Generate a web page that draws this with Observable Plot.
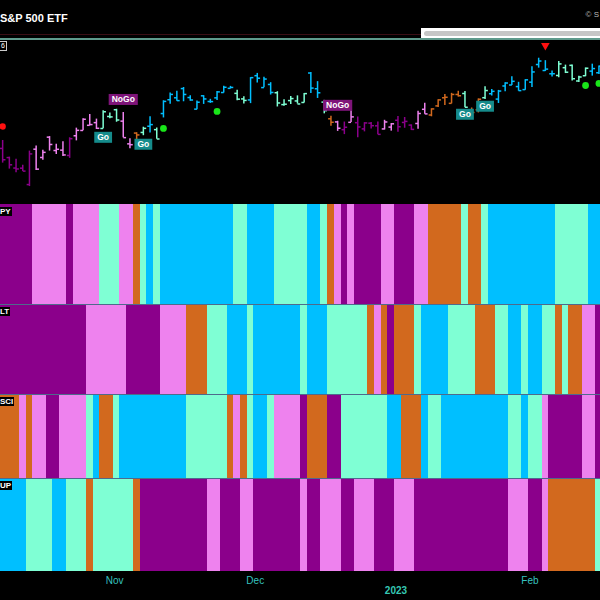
<!DOCTYPE html>
<html><head><meta charset="utf-8">
<script src="https://cdn.jsdelivr.net/npm/d3@7"></script>
<script src="https://cdn.jsdelivr.net/npm/@observablehq/plot@0.6"></script>
<style>
html,body{margin:0;padding:0;background:#000;overflow:hidden;}
#root{position:relative;width:600px;height:600px;background:#000;overflow:hidden;font-family:"Liberation Sans",Arial,sans-serif;}
.title{position:absolute;left:0;top:12px;color:#fff;font-weight:bold;font-size:11px;line-height:12px;white-space:nowrap;}
.copy{position:absolute;right:1px;top:10px;color:#bbb;font-size:8px;line-height:9px;white-space:nowrap;}
.lineRed{position:absolute;left:0;top:34px;width:421px;height:1px;background:#3a0d14;}
.lineTeal{position:absolute;left:0;top:38px;width:600px;height:1.5px;background:#5f9a8c;}
.scroll{position:absolute;left:421px;top:28px;width:181px;height:10px;background:#fff;}
.thumb{position:absolute;left:3px;top:2.5px;right:0;height:5px;background:#c6c6c6;border-radius:3px;}
.plots{position:absolute;left:0;top:40px;width:600px;}
.plots svg{display:block;}
.gap{height:1px;background:#4f6a8c;}
.tag{position:absolute;left:0;background:#000;color:#fff;font-weight:bold;font-size:8px;line-height:9px;padding:0 1px 0 0;white-space:nowrap;}
.ptag{position:absolute;left:0;top:41px;border:1px solid #ccc;border-left:none;color:#fff;font-size:7px;line-height:8px;padding:0 1px;background:#000;}
</style></head>
<body>
<div id="root">
  <div class="title">S&amp;P 500 ETF</div>
  <div class="copy">© S</div>
  <div class="lineRed"></div>
  <div class="lineTeal"></div>
  <div class="scroll"><div class="thumb"></div></div>
  <div class="plots" id="plots"></div>
  <div class="ptag">6</div>
  <div class="tag" style="top:206.5px">PY</div>
  <div class="tag" style="top:306.5px">LT</div>
  <div class="tag" style="top:397px">SCI</div>
  <div class="tag" style="top:481px">UP</div>
</div>
<script>
// ---- data ----
const stateCodes = ["B", "A", "O", "V", "P"]; // strong Go, weak Go, fade, weak NoGo, strong NoGo
const stateColors = ["#00bfff", "#7fffd4", "#d2691e", "#ee82ee", "#8b008b"];

// daily bars, Oct 7 2022 .. Feb 15 2023 : [open, high, low, close]
const ohlc = [
 [368.97,373.29,360.94,362.79],[363.96,364.21,357.67,360.02],[358.24,363.03,355.71,357.74],[358.17,359.82,356.30,356.56],
 [349.21,367.51,348.11,365.97],[368.55,370.26,356.96,357.63],[364.01,367.98,362.50,366.82],[375.13,375.45,367.52,371.13],
 [367.82,371.26,365.64,368.50],[368.03,372.67,364.61,365.41],[365.12,374.80,363.54,374.29],[375.89,380.06,373.11,378.87],
 [378.79,385.25,378.67,384.92],[381.62,387.58,381.35,382.02],[383.07,385.00,379.33,379.98],[379.87,389.52,379.68,389.02],
 [386.44,388.40,385.26,386.21],[390.14,390.39,383.29,384.52],[383.90,388.63,374.76,374.87],[371.47,374.21,368.79,371.01],
 [377.37,377.55,369.86,376.35],[377.71,380.57,375.93,379.95],[381.11,386.30,377.42,382.00],[379.24,380.08,373.95,374.13],
 [388.05,395.04,385.64,394.69],[395.59,399.35,393.15,398.51],[396.66,400.18,394.83,395.12],[401.70,402.31,394.49,398.49],
 [396.81,397.79,394.79,395.45],[390.46,394.95,390.14,394.24],[397.74,397.81,393.04,396.03],[394.64,395.82,393.62,394.59],
 [396.63,400.07,395.15,399.90],[399.55,402.93,399.31,402.42],[401.83,402.91,401.54,402.33],[399.09,400.81,395.11,395.91],
 [396.05,397.30,393.30,395.23],[395.49,407.68,393.48,407.68],[408.77,410.00,404.75,407.38],[402.25,407.86,402.14,406.91],
 [403.95,404.93,398.17,399.59],[399.42,399.99,391.64,393.83],[392.94,395.64,391.97,393.16],[395.14,397.36,392.93,396.24],
 [394.94,397.72,393.26,393.28],[394.11,398.99,393.80,398.95],[410.22,410.49,399.07,401.97],[401.61,405.50,396.31,399.40],
 [394.30,395.25,387.89,389.63],[385.18,386.58,381.04,383.27],[383.47,383.82,378.28,380.02],[379.23,383.40,376.53,380.54],
 [383.25,389.56,383.10,386.23],[383.05,386.21,374.77,380.72],[379.65,383.06,378.03,382.91],[382.79,383.15,379.65,381.40],
 [381.33,383.39,376.42,376.66],[379.63,384.35,379.08,383.44],[380.64,382.58,378.43,382.43],[384.37,386.43,377.83,380.82],
 [383.18,385.88,380.00,383.76],[381.72,381.84,378.76,379.38],[382.61,389.25,379.41,388.08],[390.37,393.70,387.67,387.86],
 [387.25,390.65,386.27,390.58],[392.23,395.60,391.38,395.52],[396.67,398.49,392.42,396.96],[393.62,399.10,393.34,398.50],
 [398.48,400.23,397.06,397.77],[399.01,400.12,391.28,391.49],[389.36,391.08,387.26,388.64],[390.10,396.04,388.38,395.88],
 [396.72,402.65,395.72,400.63],[398.88,401.15,397.64,400.20],[395.95,400.70,393.56,400.35],[403.13,404.92,400.03,404.75],
 [403.66,408.16,403.44,405.68],[402.80,405.13,400.28,400.59],[401.13,406.53,400.77,406.48],[405.21,413.67,402.35,410.80],
 [414.86,418.31,412.88,416.78],[411.59,416.97,411.09,412.35],[409.79,411.29,408.10,409.83],[408.87,416.49,407.57,415.19],
 [413.13,414.53,409.93,410.65],[414.41,414.57,405.81,407.09],[405.86,408.44,405.01,408.04],[408.72,412.97,408.24,412.83],
 [411.24,415.05,408.51,412.64],[410.35,414.06,409.47,413.98]
];

// heat map runs: [state, number of days]
const spyRuns = [["P",5],["V",5],["P",1],["V",4],["A",3],["V",2],["O",1],["A",1],["B",1],["A",1],["B",11],["A",2],["B",4],["A",5],["B",2],["A",1],["O",1],["V",1],["P",1],["V",1],["P",4],["V",2],["P",3],["V",2],["O",5],["A",1],["O",2],["A",1],["B",10],["A",5],["B",2]];
const tltRuns = [["P",13],["V",6],["P",5],["V",4],["O",3],["A",3],["B",3],["A",1],["B",7],["A",1],["B",3],["A",6],["O",1],["V",1],["O",1],["P",1],["O",3],["A",1],["B",4],["A",4],["O",3],["A",2],["B",2],["A",1],["B",2],["A",2],["O",1],["A",1],["O",2],["V",2],["P",1]];
const gsciRuns = [["O",3],["V",1],["O",1],["V",2],["P",2],["V",4],["A",1],["B",1],["O",2],["A",1],["B",10],["A",6],["O",1],["V",1],["O",1],["A",1],["B",2],["A",1],["V",4],["P",1],["O",3],["P",2],["A",7],["B",2],["O",3],["B",1],["A",2],["B",10],["A",2],["B",1],["A",2],["V",1],["P",5],["V",2],["P",1]];
const uupRuns = [["B",4],["A",4],["B",2],["A",3],["O",1],["A",6],["O",1],["P",10],["V",2],["P",3],["V",2],["P",7],["V",1],["P",2],["V",3],["P",2],["V",3],["P",3],["V",3],["P",14],["V",3],["P",2],["V",1],["O",7],["A",1]];

// signals on price pane: day index and price level
const redDots = [{i: 0, p: 381.0}];
const greenDots = [{i: 24, p: 379.9}, {i: 32, p: 389.2}, {i: 87, p: 403.4}, {i: 89, p: 404.5}];
const redTriangles = [{i: 81, p: 425.3}];
const signalLabels = [
  {i: 18, p: 395.6, t: "NoGo"}, {i: 15, p: 374.9, t: "Go"}, {i: 21, p: 371.1, t: "Go"},
  {i: 50, p: 392.4, t: "NoGo"}, {i: 69, p: 387.5, t: "Go"}, {i: 72, p: 391.9, t: "Go"}
];

// x-axis tick labels (day index of first session)
const tickIndex = [17, 38, 59, 79];
const tickLabels = ["Nov", "Dec", "2023", "Feb"];

// ---- build ----
function expand(runs) {
  const out = []; let k = 0;
  for (const [s, n] of runs) { out.push({a: k, b: k + n - 1, s}); k += n; }
  return out;
}
function perDay(runs) {
  const out = [];
  for (const [s, n] of runs) for (let j = 0; j < n; j++) out.push(s);
  return out;
}
const spyStates = perDay(spyRuns);
const bars = ohlc.map(([o, h, l, c], i) => ({i, o, h, l, c, s: spyStates[i]}));
const ticks = tickIndex.map((i, k) => ({i, t: tickLabels[k]}));

const xDomain = [-0.321, 89.23];
const color = {type: "ordinal", domain: stateCodes, range: stateColors};
const style = {background: "#000", fontFamily: "Liberation Sans, Arial, sans-serif", overflow: "hidden"};

const pricePlot = Plot.plot({
  width: 600, height: 164, margin: 0,
  x: {domain: xDomain, axis: null},
  y: {domain: [338.3, 428.0], axis: null},
  color, style,
  marks: [
    Plot.ruleX(bars, {x: "i", y1: "l", y2: "h", stroke: "s", strokeWidth: 1.5}),
    Plot.link(bars, {x1: d => d.i - 0.42, x2: "i", y1: "o", y2: "o", stroke: "s", strokeWidth: 1.5}),
    Plot.link(bars, {x1: "i", x2: d => d.i + 0.42, y1: "c", y2: "c", stroke: "s", strokeWidth: 1.5}),
    Plot.dot(redDots, {x: "i", y: "p", fill: "#ff1010", r: 3.2}),
    Plot.dot(greenDots, {x: "i", y: "p", fill: "#19e619", r: 3.4}),
    Plot.dot(redTriangles, {x: "i", y: "p", fill: "#ff1010", symbol: "triangle", rotate: 180, r: 3.2}),
    Plot.text(signalLabels, {x: "i", y: "p", text: "t", fill: "#fff", fontSize: 8.5, fontWeight: "bold", className: "siglbl"})
  ]
});

function strip(runs, h, withAxis) {
  const mb = withAxis ? 29 : 0;
  const marks = [
    Plot.rect(expand(runs), {x1: d => d.a - 0.5, x2: d => d.b + 0.5, fill: "s", shapeRendering: "crispEdges"})
  ];
  if (withAxis) {
    marks.push(Plot.text(ticks, {filter: d => !/^\d+$/.test(d.t), x: "i", text: "t", frameAnchor: "bottom", dy: 12, dx: -2, fill: "#36c2bf", fontSize: 10}));
    marks.push(Plot.text(ticks, {filter: d => /^\d+$/.test(d.t), x: "i", text: "t", frameAnchor: "bottom", dy: 22, dx: -2, fill: "#36c8b4", fontSize: 10, fontWeight: "bold"}));
  }
  return Plot.plot({
    width: 600, height: h + mb, marginTop: 0, marginLeft: 0, marginRight: 0, marginBottom: mb,
    x: {domain: xDomain, axis: null},
    color, style, marks
  });
}

const host = document.getElementById("plots");
function gap() { const d = document.createElement("div"); d.className = "gap"; return d; }
host.append(pricePlot, strip(spyRuns, 100), gap(), strip(tltRuns, 89), gap(), strip(gsciRuns, 83), gap(), strip(uupRuns, 92, true));

// boxes behind signal labels
const svgNS = "http://www.w3.org/2000/svg";
let lblTexts = pricePlot.querySelectorAll(".siglbl text");
if (!lblTexts.length) lblTexts = pricePlot.querySelectorAll('g[aria-label="text"] text');
lblTexts.forEach(t => {
  const b = t.getBBox();
  const r = document.createElementNS(svgNS, "rect");
  r.setAttribute("x", b.x - 3);
  r.setAttribute("y", b.y - 0.5);
  r.setAttribute("width", b.width + 6);
  r.setAttribute("height", b.height + 1);
  if (t.getAttribute("transform")) r.setAttribute("transform", t.getAttribute("transform"));
  r.setAttribute("fill", t.textContent === "NoGo" ? "#7e1479" : "#158b8b");
  t.parentNode.insertBefore(r, t);
});
</script>
</body></html>
